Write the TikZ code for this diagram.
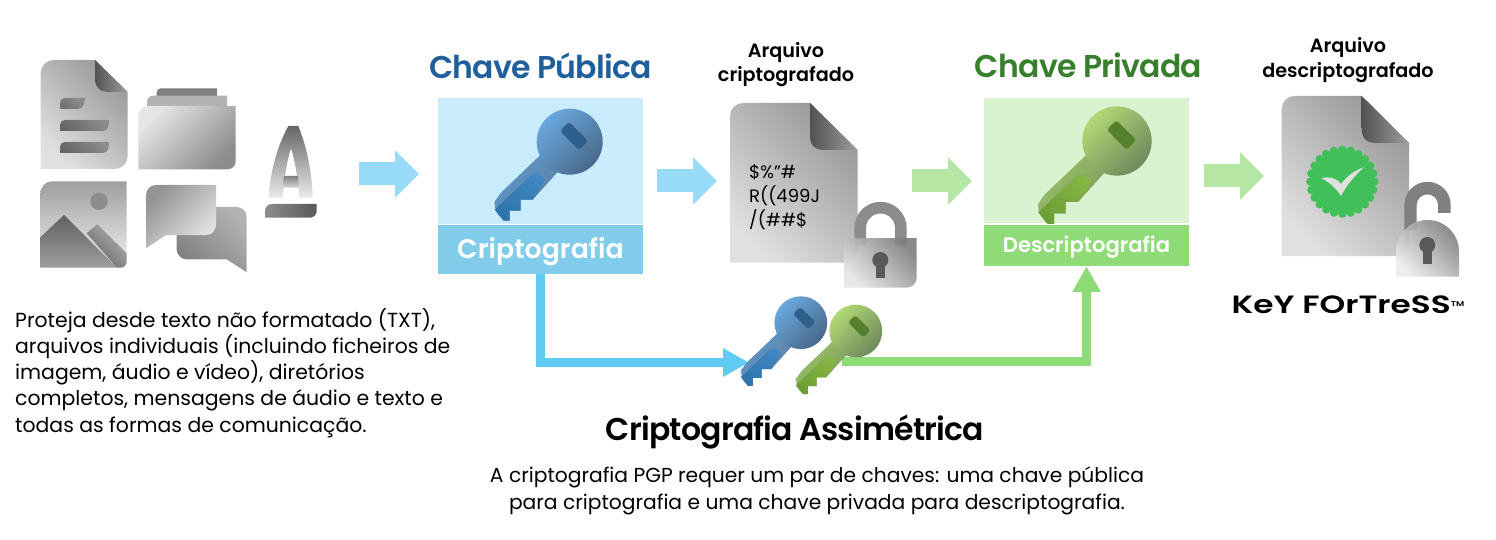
\documentclass[tikz,border=0pt]{standalone}
\usepackage{fontspec}
\setmainfont{Poppins}
\newfontfamily\semifont{Poppins SemiBold}
\newfontfamily\titlefont[LetterSpace=-2.5]{Poppins SemiBold}
\usetikzlibrary{arrows.meta}
\definecolor{bluebox}{HTML}{C8ECFC}
\definecolor{bluelabel}{HTML}{82CCEB}
\definecolor{blueline}{HTML}{5FCBF5}
\definecolor{bluearrow}{HTML}{97DBF8}
\definecolor{bluetitle}{HTML}{1F5F9B}
\definecolor{greenbox}{HTML}{D9F2CF}
\definecolor{greenlabel}{HTML}{8FDB78}
\definecolor{greenarrow}{HTML}{B5E6A3}
\definecolor{greentitle}{HTML}{37802B}
\definecolor{badge}{HTML}{41C05A}
\definecolor{blueheadA}{HTML}{6AA8DE}
\definecolor{blueheadB}{HTML}{48698A}
\definecolor{blueshaftA}{HTML}{5F97CC}
\definecolor{blueshaftB}{HTML}{5C80A0}
\definecolor{bluebladeA}{HTML}{2F74AD}
\definecolor{bluebladeB}{HTML}{3F86C2}
\definecolor{blueslot}{HTML}{2F5F8C}
\definecolor{greenheadA}{HTML}{B2D875}
\definecolor{greenheadB}{HTML}{6E8A5C}
\definecolor{greenshaftA}{HTML}{9CC46A}
\definecolor{greenshaftB}{HTML}{78985C}
\definecolor{greenbladeA}{HTML}{6C9E35}
\definecolor{greenbladeB}{HTML}{84B543}
\definecolor{greenslot}{HTML}{55802C}
\tikzset{
gradup/.style 2 args={bottom color=#1,top color=#2,shading angle=-45},
graddown/.style 2 args={bottom color=#1,top color=#2,shading angle=45},
blockblue/.style={draw=bluearrow,line width=23pt,-{Triangle[length=24pt,width=46pt]}},
blockgreen/.style={draw=greenarrow,line width=23pt,-{Triangle[length=24pt,width=46pt]}},
title/.style={font=\titlefont\fontsize{31.5}{36}\selectfont},
head/.style={font=\semifont\fontsize{19.2}{24.5}\selectfont,align=center},
body/.style={font=\fontsize{20.4}{26.2}\selectfont},
}
\newcommand\keyicon[3]{
\begin{scope}[shift={#1},scale=#2]
\path[graddown={#3shaftB}{#3shaftA}] (-30,14) [rounded corners=8pt] -- (-73,55) -- (-77,66) [sharp corners] -- (-66,79) -- (-60,79) -- (-60,69) -- (-49,69) -- (-49,58) -- (-37,58) -- (-10,28) -- cycle;
\path[gradup={#3bladeA}{#3bladeB}] (-75,68) -- (-39,34) [rounded corners=3pt] -- (-33,31) -- (-24,38) [sharp corners] -- (-37,58) -- (-49,58) -- (-49,69) -- (-60,69) -- (-60,79) -- (-66,79) -- cycle;
\path[graddown={#3headB}{#3headA}] (0,0) circle (33);
\path[fill=#3slot,rounded corners=3pt] (-.6,-19.8) -- (18.4,-.8) -- (9.2,8.4) -- (-9.8,-10.8) -- cycle;
\end{scope}
}
\newcommand\docicon[6]{
\path[gradup={black!12}{black!40}] (#1,#4) [rounded corners=13pt] -- (#1,#2) [sharp corners] -- (#5,#2) -- (#3,#6) [rounded corners=13pt] -- (#3,#4) [sharp corners] -- cycle;
\path[left color=black!68,right color=black!38] (#5,#2) -- (#3,#6) -- (#5+15,#6) .. controls (#5+4,#6) and (#5,#6-5) .. (#5,#6-15) -- cycle;
}
\begin{document}
\begin{tikzpicture}[x=1pt,y=-1pt]
\useasboundingbox (0,0) rectangle (1496,540);
\docicon{40.7}{60}{127.7}{169}{95}{92}
\path[gradup={black!55}{black!45}] (60,109) [rounded corners=5pt] -- (60,98) [sharp corners] -- (85,98) [rounded corners=5pt] -- (83,109) [sharp corners] -- cycle;
\path[gradup={black!60}{black!45}] (60,131) [rounded corners=5pt] -- (60,120) [sharp corners] -- (109,120) [rounded corners=5pt] -- (108,131) [sharp corners] -- cycle;
\path[gradup={black!60}{black!45}] (60,153) [rounded corners=5pt] -- (60,142) [sharp corners] -- (109,142) [rounded corners=5pt] -- (108,153) [sharp corners] -- cycle;
\path[fill=black!50] (156.7,100) [rounded corners=4pt] -- (156.7,88.3) [sharp corners] -- (217,88.3) -- (217,100) -- cycle;
\path[fill=black!30] (147,110) [rounded corners=6pt] -- (147,95.7) [sharp corners] -- (227,95.7) -- (227,110) -- cycle;
\path[graddown={black!45}{black!10}] (138.3,169.3) [rounded corners=10pt] -- (138.3,106) [sharp corners] -- (235.7,106) [rounded corners=8pt] -- (235.7,169.3) [sharp corners] -- cycle;
\path[top color=black!38,bottom color=black!5] (40.3,267.7) [rounded corners=12pt] -- (40.3,181.3) [sharp corners] -- (126.7,181.3) [rounded corners=10pt] -- (126.7,267.7) [sharp corners] -- cycle;
\fill[black!45] (99,201.3) circle (8.7);
\path[gradup={black!60}{black!30}] (86.7,233.3) -- (97.3,224.3) -- (126.7,253.3) [rounded corners=6pt] -- (126.7,267.7) [sharp corners] -- (116.7,267.7) -- cycle;
\path[top color=black!62,bottom color=black!38] (40.3,237.3) -- (64,215) -- (116.7,267.7) -- (40.3,267.7) -- cycle;
\path[gradup={black!50}{black!30}] (216,207) [rounded corners=10pt] -- (246.7,207) [sharp corners] -- (246.7,272.3) -- (226.7,259.3) [rounded corners=10pt] -- (176.7,259.3) [sharp corners] -- (176.7,225) -- cycle;
\path[graddown={black!10}{black!42}] (146,248.3) [rounded corners=10pt] -- (146,185) [sharp corners] -- (216,185) [rounded corners=10pt] -- (216,235) [sharp corners] -- (166,235) -- cycle;
\path[bottom color=black!8,top color=black!60] (269,197.7) .. controls (270,170) and (278,145) .. (288.3,126) -- (298.3,126) .. controls (306,145) and (312,170) .. (312.7,197.7) -- (299.3,197.7) .. controls (298,180) and (295,160) .. (291,148.3) .. controls (287,160) and (284,180) .. (282.7,197.7) -- cycle;
\path[top color=black!50,bottom color=black!15] (284,176) -- (298,176) -- (299,187.7) -- (283,187.7) -- cycle;
\path[left color=black!45,right color=black!65] (265,217.7) [rounded corners=7pt] -- (265,204) [sharp corners] -- (316.7,204) [rounded corners=7pt] -- (316.7,217.7) [sharp corners] -- cycle;
\node[body,align=left,anchor=north west,inner sep=0pt] (intro) at (15,308) {Proteja desde texto não formatado (TXT),\\arquivos individuais (incluindo ficheiros de\\imagem, áudio e vídeo), diretórios\\completos, mensagens de áudio e texto e\\todas as formas de comunicação.};
\node[title,text=bluetitle] (pubtitle) at (540.5,65.5) {Chave Pública};
\node[title,text=greentitle] (privtitle) at (1088.5,65.5) {Chave Privada};
\node[fill=bluebox,minimum width=205pt,minimum height=126pt,inner sep=0pt] (pubbox) at (540.5,161) {};
\node[fill=bluelabel,minimum width=205pt,minimum height=49pt,inner sep=0pt,text=white,font=\semifont\fontsize{26.8}{30}\selectfont] (cripto) at (540.5,249.5) {\raisebox{-8.5pt}[0pt][0pt]{Criptografia}};
\node[fill=greenbox,minimum width=205pt,minimum height=124.5pt,inner sep=0pt] (privbox) at (1086.5,160.5) {};
\node[fill=greenlabel,minimum width=205pt,minimum height=41pt,inner sep=0pt,text=white,font=\semifont\fontsize{21.1}{24}\selectfont] (descripto) at (1086.5,245.5) {\raisebox{-7pt}[0pt][0pt]{Descriptografia}};
\keyicon{(569.7,141.7)}{1}{blue}
\keyicon{(1117,141)}{1.05}{green}
\node[head] (cifrado) at (786,64.5) {Arquivo\\criptografado};
\node[head] (claro) at (1348,60) {Arquivo\\descriptografado};
\docicon{730}{103}{857.7}{262.7}{810}{150}
\node[align=left,anchor=north west,inner sep=0pt,font=\fontsize{18}{24}\selectfont] (cifra) at (749,164) {\$\%”\#\\R((499J\\/(\#\#\$};
\path[fill=black!45,even odd rule] (854.3,245) -- (854.3,228) arc[start angle=180,end angle=360,radius=26.2] -- (906.7,245) -- cycle (866,245) -- (866,228) arc[start angle=180,end angle=360,radius=14.5] -- (895,245) -- cycle;
\path[gradup={black!10,opacity=.92}{black!50,opacity=.92}] (844,287.7) [rounded corners=10pt] -- (844,238) [sharp corners] -- (916.7,238) [rounded corners=10pt] -- (916.7,287.7) [sharp corners] -- cycle;
\fill[black!65] (880.3,260) circle (8);
\fill[black!65] (876,262) -- (884.5,262) -- (884.5,278) -- (876,278) -- cycle;
\docicon{1281.7}{96}{1409}{256}{1361.7}{143}
\foreach \ang in {0,15,...,345} \fill[badge] (1342.3,181.7) ++(\ang:32) circle (4.2);
\fill[badge] (1342.3,181.7) circle (32);
\path[fill=black!12] (1321.7,178.3) .. controls (1330,176) and (1336,178) .. (1341,184) .. controls (1347,176) and (1355,170) .. (1364,167.3) .. controls (1354,176) and (1346,186) .. (1341,196) .. controls (1336,188) and (1329,182) .. (1321.7,178.3) -- cycle;
\path[fill=black!50] (1404.3,230) -- (1404.3,205) arc[start angle=180,end angle=360,radius=23.2] -- (1450.7,213) -- (1438,213) -- (1438,205) arc[start angle=360,end angle=180,radius=10.65] -- (1416.7,230) -- cycle;
\path[gradup={black!8,opacity=.92}{black!50,opacity=.92}] (1396,276.7) -- (1396,251.5) arc[start angle=180,end angle=360,radius=31.5] -- (1459,276.7) -- cycle;
\fill[black!65] (1427.3,245) circle (8);
\fill[black!65] (1423,247) -- (1431.5,247) -- (1431.5,264) -- (1423,264) -- cycle;
\node[font=\semifont\fontsize{25}{28}\selectfont] (logo) at (1348,305) {\scalebox{1.31}[1]{KeY FOrTreSS\raisebox{7pt}{\fontsize{7}{8}\selectfont TM}}};
\coordinate (intoutA) at (359,174);
\coordinate (intoutB) at (419,174);
\draw[blockblue] (intoutA)--(intoutB);
\coordinate (cifinA) at (657,181);
\coordinate (cifinB) at (717,181);
\draw[blockblue] (cifinA)--(cifinB);
\coordinate (cifoutA) at (912,181);
\coordinate (cifoutB) at (972,181);
\draw[blockgreen] (cifoutA)--(cifoutB);
\coordinate (privoutA) at (1204,176);
\coordinate (privoutB) at (1264,176);
\draw[blockgreen] (privoutA)--(privoutB);
\coordinate (bluetip) at (749,362.5);
\coordinate (greenstart) at (842,361.5);
\draw[blueline,line width=9pt,-{Triangle[length=26pt,width=27pt]}] (cripto.south) |- (bluetip);
\draw[greenlabel,line width=9pt,-{Triangle[length=26pt,width=27pt]}] (greenstart) -| (descripto.south);
\keyicon{(800.8,322.7)}{.8}{blue}
\keyicon{(855.8,331)}{.8}{green}
\node[title,text=black] (assim) at (795,432) {Criptografia Assimétrica};
\node[body,align=center,font=\fontsize{20.25}{27}\selectfont] (nota) at (817,490.5) {A criptografia PGP requer um par de chaves: uma chave pública\\para criptografia e uma chave privada para descriptografia.};
\end{tikzpicture}
\end{document}
